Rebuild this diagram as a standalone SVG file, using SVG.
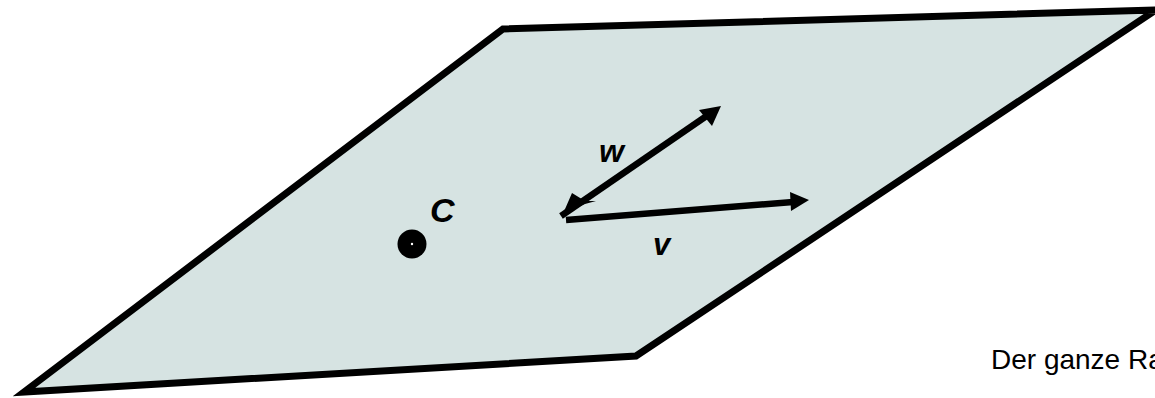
<svg xmlns="http://www.w3.org/2000/svg" width="1155" height="398" viewBox="0 0 1155 398">
<style>
.plane{fill:#d6e3e2;stroke:#000;stroke-width:7;stroke-linejoin:miter;stroke-miterlimit:20}
.vec{stroke:#000;stroke-width:6.5;fill:none}
.head{fill:#000}
.lbl{font-family:"Liberation Sans",Arial,sans-serif;font-weight:bold;font-style:italic;fill:#000}
.cap{font-family:"Liberation Sans",Arial,sans-serif;fill:#000}
</style>
<rect width="1155" height="398" fill="#fff"/>
<g id="plane">
<polygon class="plane" points="503,29 1156,10 636,356 24,392"/>
</g>
<g id="connectors">
<line class="vec" x1="561" y1="216" x2="708" y2="115"/>
<polygon class="head" points="721,106 699,110 712,126"/>
<polygon class="head" points="572,193 585,201 596,201 585,204 574,209 562,216"/>
<line class="vec" x1="566" y1="220" x2="793" y2="202"/>
<polygon class="head" points="809,200 790,192 791,211"/>
</g>
<g id="point-C">
<circle cx="412" cy="244" r="14.5" fill="#000"/>
<circle cx="412" cy="244" r="1.2" fill="#fff"/>
<text class="lbl" x="430" y="222" font-size="34">C</text>
</g>
<g id="label-w"><text class="lbl" x="599" y="162" font-size="32">w</text></g>
<g id="label-v"><text class="lbl" x="653" y="255" font-size="31">v</text></g>
<g id="caption"><text class="cap" x="991" y="369" font-size="28">Der ganze Ra</text></g>
</svg>
